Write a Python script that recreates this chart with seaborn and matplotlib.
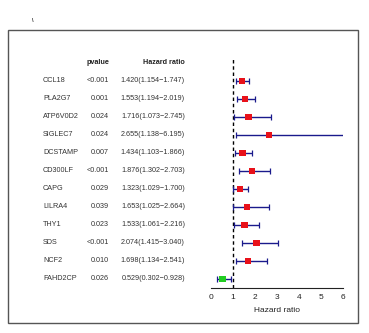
import matplotlib
matplotlib.use("Agg")
import matplotlib.pyplot as plt
import matplotlib.transforms as mtransforms
from matplotlib.patches import Rectangle
import seaborn as sns
import pandas as pd

genes = ["CCL18", "PLA2G7", "ATP6V0D2", "SIGLEC7", "DCSTAMP", "CD300LF",
         "CAPG", "LILRA4", "THY1", "SDS", "NCF2", "FAHD2CP"]
pvalues = ["<0.001", "0.001", "0.024", "0.024", "0.007", "<0.001",
           "0.029", "0.039", "0.023", "<0.001", "0.010", "0.026"]
hr = [1.420, 1.553, 1.716, 2.655, 1.434, 1.876, 1.323, 1.653, 1.533, 2.074, 1.698, 0.529]
hr_low = [1.154, 1.194, 1.073, 1.138, 1.103, 1.302, 1.029, 1.025, 1.061, 1.415, 1.134, 0.302]
hr_high = [1.747, 2.019, 2.745, 6.195, 1.866, 2.703, 1.700, 2.664, 2.216, 3.040, 2.541, 0.928]
x_ticks = [0, 1, 2, 3, 4, 5, 6]

df = pd.DataFrame({"gene": genes, "p": pvalues, "hr": hr, "low": hr_low, "high": hr_high})
df["row"] = range(len(df))
df["risk"] = ["high" if v > 1 else "low" for v in df["hr"]]

sns.set_style("white")
plt.rcParams["font.family"] = ["Liberation Sans", "DejaVu Sans"]

W, H = 369, 333
fig = plt.figure(figsize=(W / 100, H / 100), dpi=100)

def fx(px):
    return px / W

def fy(py):
    return 1 - py / H

# outer frame
fig.patches.append(Rectangle((fx(8), fy(323)), fx(350), 293 / H, transform=fig.transFigure,
                             fill=False, edgecolor="#555555", linewidth=1.0))
fig.text(fx(33), fy(20), "\\", fontsize=4, fontweight="bold", ha="center", va="center")

# forest panel
left, right, top, bottom = 210.7, 342.7, 57, 288
ax = fig.add_axes([fx(left), fy(bottom), (right - left) / W, (bottom - top) / H])
ax.set_xlim(0, 6)
ax.set_ylim(11.5, -1.333)

ax.axvline(1, color="black", linestyle=(0, (2.5, 2)), linewidth=1.0, zorder=1)
ax.errorbar(df["hr"], df["row"],
            xerr=[df["hr"] - df["low"], df["high"] - df["hr"]],
            fmt="none", ecolor="#1a1a8c", elinewidth=1.0, capsize=2.2, capthick=0.9, zorder=2)
sns.scatterplot(data=df, x="hr", y="row", hue="risk", palette={"high": "#e8111a", "low": "#22cc22"},
                marker="s", s=22, edgecolor="none", legend=False, ax=ax, zorder=3)

for s in ["top", "right", "left"]:
    ax.spines[s].set_visible(False)
ax.spines["bottom"].set_linewidth(0.8)
ax.spines["bottom"].set_color("#222222")
ax.set_xticks(x_ticks)
ax.set_xticklabels([str(t) for t in x_ticks], fontsize=6, color="#222222")
ax.tick_params(axis="x", direction="out", length=3, width=0.8, pad=1.5, color="#222222")
ax.set_yticks([])
ax.set_xlabel("Hazard ratio", fontsize=6, color="#222222", labelpad=4)
ax.set_ylabel("")
ax.patch.set_alpha(0)

# table columns
trans = mtransforms.blended_transform_factory(fig.transFigure, ax.transData)
txt = dict(fontsize=5.2, color="#333333", va="center", transform=trans)
fig.text(fx(109), fy(62), "pvalue", fontsize=5.2, fontweight="bold", color="#222222",
         ha="right", va="center")
fig.text(fx(185), fy(62), "Hazard ratio", fontsize=5.2, fontweight="bold", color="#222222",
         ha="right", va="center")
for _, r in df.iterrows():
    ax.text(fx(43), r["row"], r["gene"], ha="left", **txt)
    ax.text(fx(109), r["row"], r["p"], ha="right", **txt)
    ax.text(fx(185), r["row"], f"{r['hr']:.3f}({r['low']:.3f}\u2212{r['high']:.3f})", ha="right", **txt)

fig.savefig("out.png", dpi=100)
